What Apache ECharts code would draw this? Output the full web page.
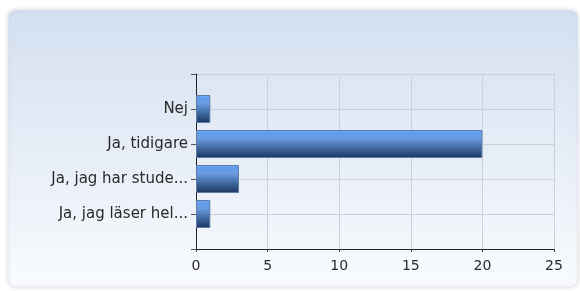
<!DOCTYPE html>
<html>
<head>
    <meta charset="utf-8">
    <title>ECharts</title>
    <script src="https://cdn.jsdelivr.net/npm/echarts@6/dist/echarts.min.js"></script>
    <style>
        html, body { margin: 0; padding: 0; background: #fff; }
    </style>
</head>
<body>
<div id="main" style="width: 580px; height: 291px;"></div>
<script type="text/javascript">
    // empty slots at both ends so the answers sit inside the frame
    var categories = ['', 'Nej', 'Ja, tidigare', 'Ja, jag har stude...', 'Ja, jag läser hel...', ''];
    var counts = [null, 1, 20, 3, 1, null];
    var xTicks = [0, 5, 10, 15, 20, 25];

    var myChart = echarts.init(document.getElementById('main'));

    var barColor = new echarts.graphic.LinearGradient(0, 0, 0, 1, [
        { offset: 0, color: '#8ab8f5' },
        { offset: 0.08, color: '#5f9cf0' },
        { offset: 0.3, color: '#6a9de0' },
        { offset: 0.65, color: '#3f689f' },
        { offset: 1, color: '#1c3560' }
    ]);

    var option = {
        backgroundColor: '#ffffff',
        animation: false,
        graphic: [{
            type: 'rect',
            z: -10,
            shape: { x: 8, y: 10, width: 570, height: 277, r: 8 },
            style: {
                fill: new echarts.graphic.LinearGradient(0, 0, 0, 1, [
                    { offset: 0, color: '#d3dff0' },
                    { offset: 1, color: '#f9fbfe' }
                ]),
                stroke: '#e6eaf0',
                lineWidth: 1,
                shadowBlur: 4,
                shadowColor: 'rgba(0,0,0,0.12)'
            }
        }],
        grid: {
            left: 196,
            top: 74,
            right: 26,
            bottom: 42,
            containLabel: false
        },
        xAxis: {
            type: 'value',
            min: xTicks[0],
            max: xTicks[xTicks.length - 1],
            interval: xTicks[1] - xTicks[0],
            axisLine: { show: true, lineStyle: { color: '#222', width: 1 } },
            axisTick: { show: true, length: 3, lineStyle: { color: '#444' } },
            axisLabel: {
                color: '#2a2a2a',
                fontFamily: 'DejaVu Sans',
                fontSize: 14,
                margin: 10
            },
            splitLine: { show: true, lineStyle: { color: '#cbd1da', width: 1 } }
        },
        yAxis: {
            type: 'category',
            data: categories,
            inverse: true,
            boundaryGap: false,
            axisLine: { show: true, lineStyle: { color: '#222', width: 1 } },
            axisTick: { show: true, length: 5, lineStyle: { color: '#555' } },
            axisLabel: {
                color: '#2a2a2a',
                fontFamily: 'DejaVu Sans',
                fontSize: 15,
                margin: 8,
                interval: 0
            },
            splitLine: { show: true, lineStyle: { color: '#cbd1da', width: 1 } }
        },
        series: [{
            type: 'bar',
            data: counts,
            barWidth: 28,
            itemStyle: {
                color: barColor,
                borderColor: '#5f7ca6',
                borderWidth: 1
            }
        }]
    };

    myChart.setOption(option);
</script>
</body>
</html>
